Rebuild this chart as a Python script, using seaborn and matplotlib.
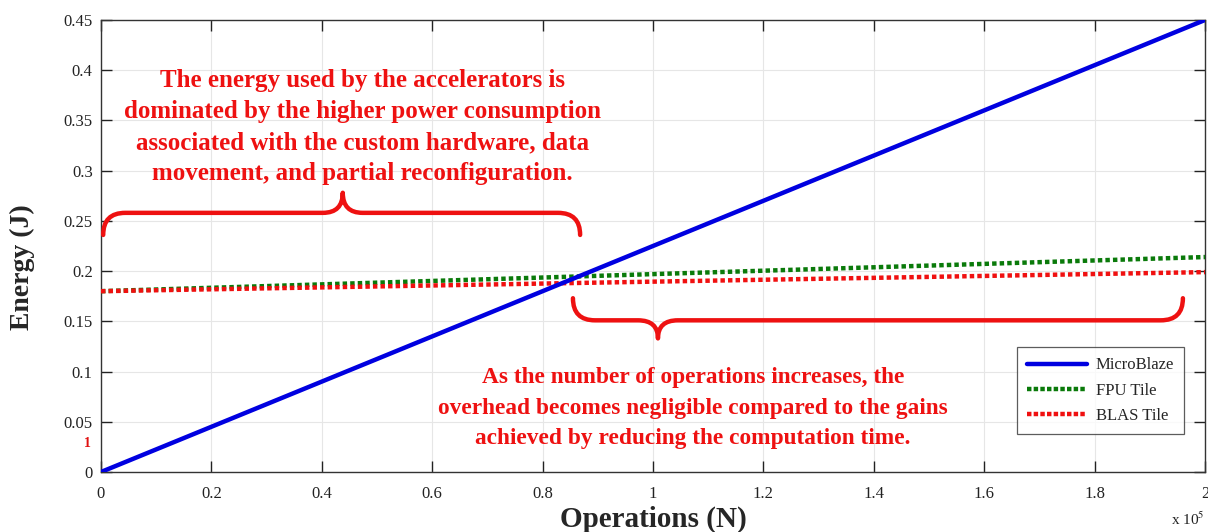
import numpy as np
import pandas as pd
import matplotlib
matplotlib.use("Agg")
import matplotlib.pyplot as plt
from matplotlib.path import Path
from matplotlib.patches import PathPatch
from matplotlib.ticker import FuncFormatter
import seaborn as sns

# ---- data ----
operations = [0, 200000]
microblaze = [0.0, 0.45]
fpu_tile = [0.18, 0.214]
blas_tile = [0.18, 0.199]
series_names = ["MicroBlaze", "FPU Tile", "BLAS Tile"]
x_ticks = [0, 0.2, 0.4, 0.6, 0.8, 1, 1.2, 1.4, 1.6, 1.8, 2]
y_ticks = [0, 0.05, 0.1, 0.15, 0.2, 0.25, 0.3, 0.35, 0.4, 0.45]

sns.set_theme(style="white")
plt.rcParams['font.family'] = ['Liberation Serif', 'DejaVu Serif']
plt.rcParams['mathtext.fontset'] = 'stix'

fig = plt.figure(figsize=(12.08, 5.32), dpi=100)
ax = fig.add_axes([0.0836, 0.1128, 0.9139, 0.8496])

df = pd.DataFrame({
    "ops": operations * 3,
    "energy": microblaze + fpu_tile + blas_tile,
    "series": [series_names[0]] * 2 + [series_names[1]] * 2 + [series_names[2]] * 2,
})
palette = {"MicroBlaze": "#0000e0", "FPU Tile": "#0a7a0a", "BLAS Tile": "#f01010"}
dots = (1.0, 0.7)
sns.lineplot(data=df[df.series == "MicroBlaze"], x="ops", y="energy", color=palette["MicroBlaze"],
             lw=3.2, ax=ax, label="MicroBlaze", zorder=4)
sns.lineplot(data=df[df.series == "FPU Tile"], x="ops", y="energy", color=palette["FPU Tile"],
             lw=3.2, dashes=dots, ax=ax, label="FPU Tile", zorder=3)
sns.lineplot(data=df[df.series == "BLAS Tile"], x="ops", y="energy", color=palette["BLAS Tile"],
             lw=3.2, dashes=dots, ax=ax, label="BLAS Tile", zorder=3)
for ln in ax.lines[1:]:
    ln.set_dashes(dots)
    ln.set_dash_capstyle("butt")

ax.set_xlim(0, 200000)
ax.set_ylim(0, 0.45)
ax.set_xticks([t * 1e5 for t in x_ticks])
ax.xaxis.set_major_formatter(FuncFormatter(lambda v, p: f"{v/1e5:g}"))
ax.set_yticks(y_ticks)
ax.yaxis.set_major_formatter(FuncFormatter(lambda v, p: f"{v:g}"))
ax.grid(True, color="#e6e6e6", lw=0.8)
ax.tick_params(direction="in", length=8, width=1, colors="#222222", labelsize=12,
               top=True, right=True, bottom=True, left=True, labelcolor="#222222")
ax.tick_params(axis="x", pad=10)
ax.tick_params(axis="y", pad=6)
for s in ax.spines.values():
    s.set_color("#333333")
    s.set_linewidth(1.0)

ax.set_xlabel("Operations (N)", fontsize=21, fontweight="bold", va="center")
ax.xaxis.set_label_coords(0.5, -0.104)
ax.set_ylabel("Energy (J)", fontsize=20, fontweight="bold", va="center")
ax.yaxis.set_label_coords(-0.0716, 0.4535)
ax.text(1.0, -0.105, r"x 10$^5$", transform=ax.transAxes, ha="right", va="center", fontsize=11,
        color="#222222")
ax.text(-0.0127, 0.064, "1", transform=ax.transAxes, ha="center", va="center", fontsize=10,
        color="#e01010", fontweight="bold")

leg = ax.legend(loc="lower right", bbox_to_anchor=(0.9885, 0.066), fontsize=12, frameon=True,
                fancybox=False, edgecolor="#333333", handlelength=3.6, handletextpad=0.5,
                borderpad=0.6, labelspacing=0.55)
leg.get_frame().set_linewidth(0.9)
for h in leg.get_lines()[1:]:
    h.set_dashes((1.0, 0.5))

red = "#ee1111"
ax.text(0.473e5, 0.3435, "The energy used by the accelerators is\n"
        "dominated by the higher power consumption\n"
        "associated with the custom hardware, data\n"
        "movement, and partial reconfiguration.",
        ha="center", va="center", fontsize=18, fontweight="bold", color=red, linespacing=1.43)
ax.text(1.072e5, 0.0637, "As the number of operations increases, the\n"
        "overhead becomes negligible compared to the gains\n"
        "achieved by reducing the computation time.",
        ha="center", va="center", fontsize=16.8, fontweight="bold", color=red, linespacing=1.6)


def brace(ax, x0, x1, y, tip, peak, xc, r=4000, rc=3600, color=red):
    verts = [(x0, tip), (x0, y), (x0 + r, y),
             (xc - rc, y),
             (xc, y), (xc, peak),
             (xc, y), (xc + rc, y),
             (x1 - r, y),
             (x1, y), (x1, tip)]
    codes = [Path.MOVETO, Path.CURVE3, Path.CURVE3,
             Path.LINETO,
             Path.CURVE3, Path.CURVE3,
             Path.CURVE3, Path.CURVE3,
             Path.LINETO,
             Path.CURVE3, Path.CURVE3]
    ax.add_patch(PathPatch(Path(verts, codes), fill=False, edgecolor=color, lw=3.2,
                           capstyle="round", joinstyle="round", zorder=5))


brace(ax, 0.004e5, 0.868e5, 0.258, 0.236, 0.278, 0.438e5)
brace(ax, 0.855e5, 1.960e5, 0.151, 0.173, 0.133, 1.009e5)

fig.savefig("out.png", dpi=100)
